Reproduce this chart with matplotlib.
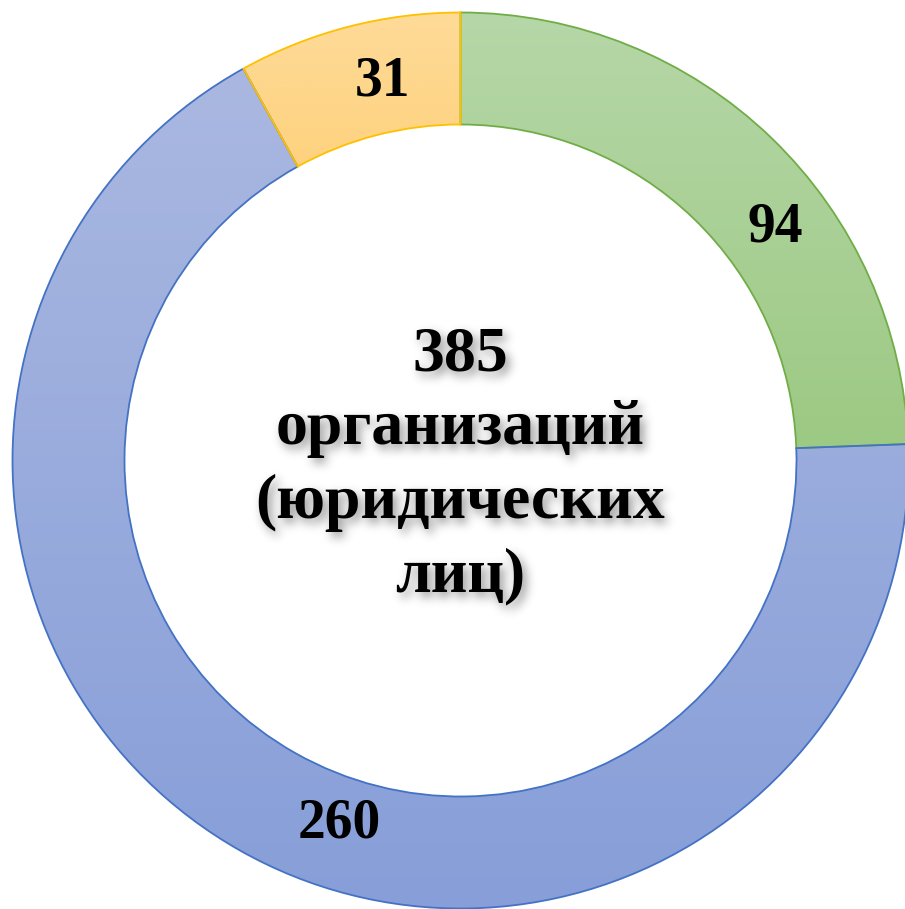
import numpy as np
import matplotlib
matplotlib.use("Agg")
import matplotlib.pyplot as plt
from matplotlib.colors import LinearSegmentedColormap

# ---- data ----
categories = ["Группа 1", "Группа 2", "Группа 3"]
values = [94, 260, 31]
total_label = "385"
center_text = "организаций\n(юридических\nлиц)"

top_colors = ["#b6d7a8", "#aab8e1", "#fedb99"]
bottom_colors = ["#9cc983", "#879ed8", "#fed27e"]
edge_colors = ["#70ad47", "#4472c4", "#ffc000"]

W, H = 905, 909
fig = plt.figure(figsize=(W / 100, H / 100), dpi=100)
ax = fig.add_axes([0, 0, 1, 1])

cx, cy = 460.5, H - 460.5
R = 448
ring = 112

wedges, _ = ax.pie(values, startangle=90, counterclock=False, radius=R,
                   center=(cx, cy),
                   wedgeprops=dict(width=ring, linewidth=1.3))
for w, tc, bc, ec in zip(wedges, top_colors, bottom_colors, edge_colors):
    w.set_facecolor("none")
    w.set_edgecolor(ec)
    w.set_zorder(3)
    ext = w.get_path().get_extents()
    cmap = LinearSegmentedColormap.from_list("g", [bc, tc])
    grad = np.linspace(0, 1, 256).reshape(-1, 1)
    im = ax.imshow(grad, cmap=cmap, origin="lower", aspect="auto",
                   extent=[ext.x0, ext.x1, ext.y0, ext.y1], zorder=2,
                   interpolation="bilinear")
    im.set_clip_path(w)

ax.set_xlim(0, W)
ax.set_ylim(0, H)
ax.set_aspect("auto")
ax.axis("off")

font = dict(family="Liberation Serif", weight="bold", color="black")

# value labels
label_pos = [(775, H - 228), (339, H - 824), (382, H - 82)]
for v, (x, y) in zip(values, label_pos):
    ax.text(x, y, str(v), ha="center", va="center", fontsize=40, zorder=5, **font)


def gauss_blur(a, sigma):
    r = int(3 * sigma)
    k = np.exp(-0.5 * (np.arange(-r, r + 1) / sigma) ** 2)
    k /= k.sum()
    a = np.apply_along_axis(lambda m: np.convolve(m, k, mode="same"), 0, a)
    a = np.apply_along_axis(lambda m: np.convolve(m, k, mode="same"), 1, a)
    return a


def shadow_filter(im, dpi):
    pad = 20
    a = np.pad(im, [(pad, pad), (pad, pad), (0, 0)], "constant")
    alpha = gauss_blur(a[..., 3], 5.0)
    alpha = np.roll(np.roll(alpha, 4, axis=1), 5, axis=0)
    out = np.zeros_like(a)
    out[..., 3] = np.clip(alpha * 0.42, 0, 1)
    return out, -pad, -pad


txt = total_label + "\n" + center_text
for z, filt in [(4, shadow_filter), (5, None)]:
    t = ax.text(cx, H - 466, txt, ha="center", va="center", multialignment="center",
                fontsize=46, linespacing=1.36, zorder=z, **font)
    if filt is not None:
        t.set_agg_filter(filt)

fig.savefig("out.png", dpi=100)
